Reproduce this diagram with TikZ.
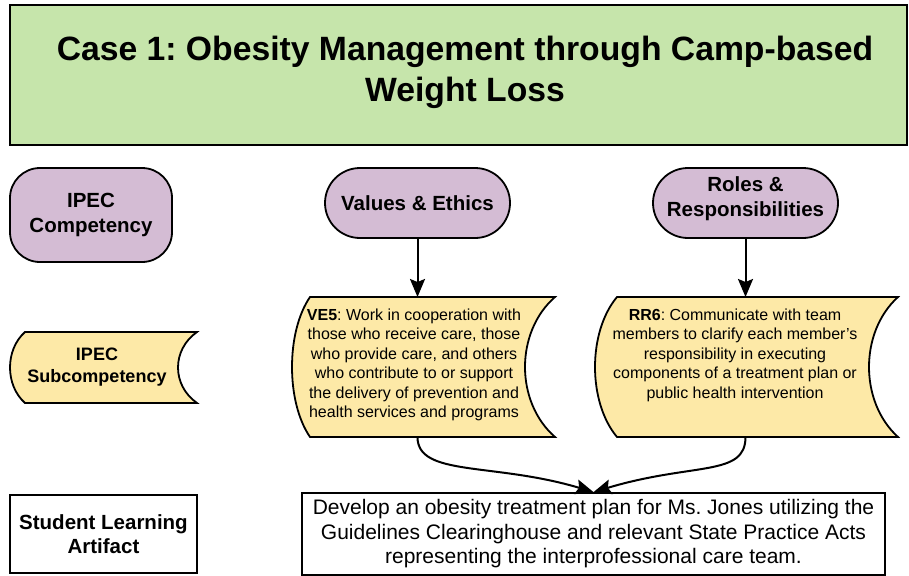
\documentclass[tikz,border=0pt]{standalone}
\usepackage{fontspec}
\setmainfont{Liberation Sans}
\usetikzlibrary{arrows.meta,calc}

\definecolor{titlegreen}{HTML}{C6E5AB}
\definecolor{compviolet}{HTML}{D4BCD4}
\definecolor{subyellow}{HTML}{FDE9A7}

\tikzset{
  outline/.style={draw=black, line width=1.8pt},
  labelfont/.style={font=\bfseries\fontsize{20.5}{24.5}\selectfont, align=center},
  pill/.style={outline, fill=compviolet, rounded corners=#1, labelfont},
  plainbox/.style={outline, fill=white, align=center},
  frame/.style={inner sep=0pt, outer sep=0pt},
  bodytext/.style={font=\fontsize{16}{19.5}\selectfont, align=center, inner sep=0pt},
  flowarrow/.style={line width=2pt, -{Stealth[length=18pt,width=15pt,inset=3pt]}}
}

% outline of a stored-data shape around a frame node
\newcommand\storedoutline[3]{% #1 frame node, #2 depth of left side, #3 depth of right side
  \filldraw[outline, fill=subyellow]
    ([xshift=#2]#1.north west) -- (#1.north east)
    .. controls ($(#1.north east)!0.25!(#1.south east) + ({-4*#3/3},0)$)
           and ($(#1.north east)!0.75!(#1.south east) + ({-4*#3/3},0)$) .. (#1.south east)
    -- ([xshift=#2]#1.south west)
    .. controls ($(#1.south west)!0.25!(#1.north west) + ({-#2/3},0)$)
           and ($(#1.south west)!0.75!(#1.north west) + ({-#2/3},0)$) .. ([xshift=#2]#1.north west)
    -- cycle;
}

\begin{document}
\frenchspacing
\begin{tikzpicture}[x=1pt,y=-1pt]
  \useasboundingbox (0,0) rectangle (909,575);
  % Title
  \node[outline, fill=titlegreen, minimum width=897, minimum height=140] (title) at (458.5,75) {};
  \node[font=\bfseries\fontsize{33.7}{41}\selectfont, align=center] (title text) at (465,72)
        {Case 1: Obesity Management through Camp-based\\Weight Loss};

  % Row labels
  \node[pill=30, minimum width=162, minimum height=94] (competency) at (91,215) {IPEC\\Competency};
  \node[frame, minimum width=187, minimum height=71] (subframe) at (103.5,367.5) {};
  \storedoutline{subframe}{15}{19}
  \node[labelfont, font=\bfseries\fontsize{18}{22}\selectfont, inner sep=0pt] (subcompetency) at (97,367) {IPEC\\Subcompetency};
  \node[plainbox, labelfont, minimum width=187, minimum height=78] (artifact) at (103.5,534) {Student Learning\\Artifact};

  % Competencies
  \node[pill=35, minimum width=185, minimum height=70] (values) at (417.5,203) {Values \& Ethics};
  \node[pill=35, minimum width=185, minimum height=70, text depth=12.5pt] (roles) at (745.5,203) {Roles \&\\Responsibilities};

  % Subcompetencies
  \node[frame, minimum width=263, minimum height=140] (ve5) at (423.5,367) {};
  \storedoutline{ve5}{18}{30}
  \node[bodytext] (ve5 text) at (414,365) {\textbf{VE5}: Work in cooperation with\\those who receive care, those\\who provide care, and others\\who contribute to or support\\the delivery of prevention and\\health services and programs};
  \node[frame, minimum width=303, minimum height=140] (rr6) at (746.5,367) {};
  \storedoutline{rr6}{22}{29}
  \node[bodytext] (rr6 text) at (735,355) {\textbf{RR6}: Communicate with team\\members to clarify each member's\\responsibility in executing\\components of a treatment plan or\\public health intervention};

  % Learning artifact
  \node[plainbox, minimum width=583, minimum height=82, font=\fontsize{21}{24.5}\selectfont] (plan) at (593.5,534)
        {Develop an obesity treatment plan for Ms. Jones utilizing the\\Guidelines Clearinghouse and relevant State Practice Acts\\representing the interprofessional care team.};

  % Connectors
  \draw[flowarrow] (values) -- (values |- ve5.north);
  \draw[flowarrow] (roles) -- (roles |- rr6.north);
  \draw[flowarrow] (values |- ve5.south) .. controls +(0,40) and +(-100,-30) .. (plan.north);
  \draw[flowarrow] (roles |- rr6.south) .. controls +(0,40) and +(100,-30) .. (plan.north);
\end{tikzpicture}
\end{document}
